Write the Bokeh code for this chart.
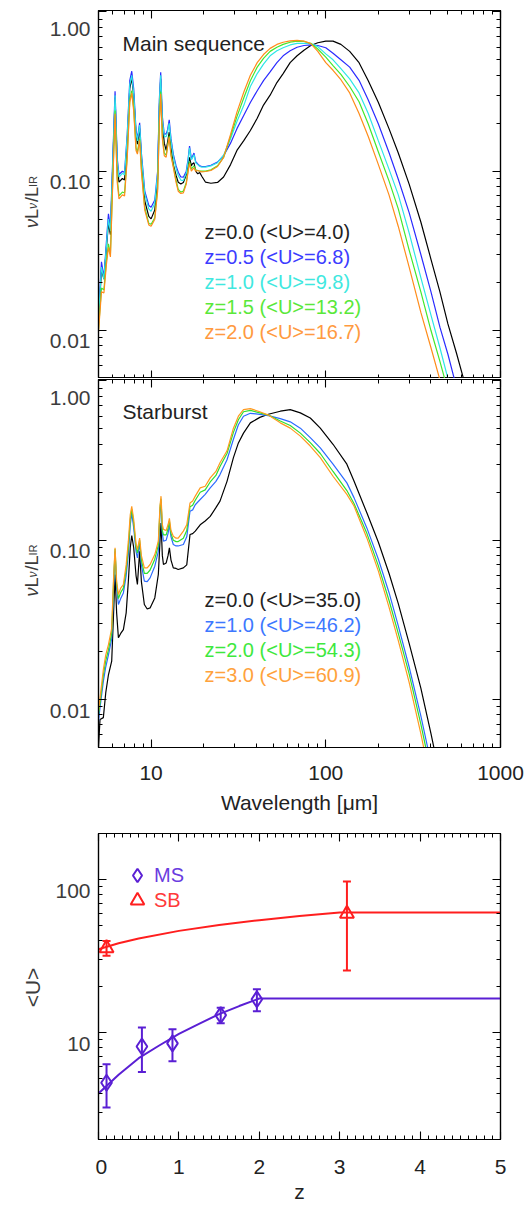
import sys
import math
from math import pi
from bokeh.plotting import figure
from bokeh.layouts import column, row
from bokeh.core.properties import value
from bokeh.models import (Range1d, FixedTicker, LogAxis, LinearAxis, PrintfTickFormatter,
                          CustomJSTickFormatter, Label, Whisker, TeeHead, ColumnDataSource,
                          Legend, LegendItem)
from bokeh.embed import file_html
from bokeh.resources import INLINE

FONT = "Liberation Sans"
TXT = "#222222"
STRIP_TXT = "#3c3c3c"

# ---------------- data: Main sequence SEDs ----------------
W_MS = [5.0, 5.2, 5.37, 5.55, 5.7, 5.85, 6.0, 6.22, 6.4, 6.55, 6.85, 7.05, 7.3, 7.55, 7.75, 7.95,
        8.2, 8.35, 8.6, 8.8, 9.2, 9.7, 10.0, 10.5, 10.9, 11.15, 11.35, 11.6, 11.9, 12.2, 12.4, 12.7,
        13.0, 13.4, 13.9, 14.3, 14.8, 15.3, 15.9, 16.3, 16.6, 17.0, 17.2, 17.6, 18.0, 18.5, 19.0,
        19.5, 20.5, 22, 24, 26, 28.5, 31, 34, 37, 40.5, 44, 48, 52.5, 57, 62.5, 68.5, 75, 82, 90,
        100, 110, 122, 137, 155, 175, 200, 230, 260, 300, 350, 400, 450, 500, 560, 620, 700]
MS_Z00 = [.0115, .024, .021, .033, .047, .040, .09, .29, .11, .0853, .09, .088, .15, .33, .385, .30,
          .17, .148, .185, .12, .065, .052, .0502, .057, .09, .25, .38, .2, .15, .135, .15, .176,
          .14, .11, .094, .0853, .083, .085, .095, .11, .122, .108, .111, .113, .10, .0963, .098,
          .093, .0853, .084, .085, .092, .11, .135, .156, .18, .215, .26, .30, .36, .41, .48, .53,
          .575, .615, .64, .655, .655, .625, .565, .48, .37, .27, .185, .13, .083, .048, .028,
          .0175, .011, .0072, .0048, .0031]
MS_Z05 = [.0125, .027, .0216, .036, .054, .044, .10, .318, .12, .0953, .10, .098, .17, .37, .424, .33,
          .18, .16, .201, .13, .075, .061, .0594, .066, .10, .28, .418, .22, .17, .172, .18, .21,
          .16, .128, .108, .0986, .092, .0917, .10, .12, .1436, .12, .123, .13, .115, .111, .108,
          .107, .107, .109, .114, .125, .15, .185, .225, .27, .32, .37, .42, .48, .53, .57, .60,
          .615, .62, .615, .595, .55, .50, .45, .372, .28, .198, .131, .089, .055, .030, .0175,
          .0105, .0071, .0044, .0031, .0019]
MS_Z10 = [.012, .025, .021, .034, .050, .042, .095, .30, .115, .092, .097, .095, .165, .35, .399, .31,
          .175, .155, .195, .125, .072, .058, .0561, .063, .097, .27, .40, .21, .165, .165, .175, .20,
          .155, .124, .104, .094, .088, .0873, .097, .117, .14, .118, .12, .127, .113, .11, .107,
          .106, .106, .108, .113, .126, .16, .205, .26, .34, .41, .47, .53, .57, .595, .62, .635,
          .635, .632, .605, .545, .50, .44, .38, .31, .23, .155, .103, .071, .041, .0215, .0125,
          .0078, .0050, .0034, .0023, .0015]
MS_Z15 = [.0102, .0185, .018, .0275, .035, .030, .074, .24, .09, .070, .074, .073, .125, .28, .32, .25,
          .14, .132, .16, .105, .059, .047, .0465, .051, .078, .21, .315, .165, .13, .126, .142, .167,
          .128, .108, .088, .077, .074, .075, .085, .102, .115, .103, .105, .108, .102, .101, .10,
          .10, .10, .102, .108, .122, .165, .22, .29, .37, .45, .51, .565, .60, .625, .645, .655,
          .652, .635, .585, .52, .46, .405, .34, .273, .198, .132, .087, .058, .032, .0175, .010,
          .0064, .0042, .0028, .0019, .0012]
MS_Z20 = [.0098, .0175, .0172, .026, .0333, .029, .07, .229, .085, .0671, .071, .07, .12, .27, .309, .24,
          .135, .128, .156, .10, .057, .046, .0451, .05, .075, .20, .306, .16, .125, .1224, .14, .163,
          .125, .106, .085, .0749, .0725, .0731, .083, .10, .112, .10, .102, .105, .1, .101, .1,
          .099, .0996, .101, .107, .122, .17, .235, .315, .40, .48, .54, .59, .625, .645, .658, .662,
          .655, .632, .565, .48, .43, .375, .31, .23, .165, .11, .071, .045, .025, .013, .0078,
          .0049, .0033, .0021, .0014, .001]
MS_LABELS = ["z=0.0 (<U>=4.0)", "z=0.5 (<U>=6.8)", "z=1.0 (<U>=9.8)",
             "z=1.5 (<U>=13.2)", "z=2.0 (<U>=16.7)"]

# ---------------- data: Starburst SEDs ----------------
W_SB = [5.0, 5.1, 5.33, 5.5, 5.7, 5.95, 6.1, 6.22, 6.35, 6.5, 6.7, 6.94, 7.2, 7.41, 7.6, 7.75, 7.95,
        8.2, 8.35, 8.6, 8.8, 9.15, 9.5, 9.87, 10.5, 11.0, 11.25, 11.4, 11.6, 11.77, 12.2, 12.5,
        12.73, 13.0, 13.4, 13.9, 14.3, 15.3, 16.0, 16.7, 17.3, 17.9, 19.1, 20.4, 21.8, 23.5, 24.8,
        27.2, 29.6, 31.6, 33.8, 37, 41.9, 46.9, 54.9, 62.6, 71.5, 81.5, 93, 110, 132, 145, 172,
        200, 230, 260, 300, 350, 400, 450]
SB_Z00 = [.005, .0075, .0077, .011, .0143, .0174, .035, .0609, .035, .0244, .026, .0275, .035, .0553,
          .09, .107, .09, .06, .0527, .0853, .055, .0395, .037, .0376, .0434, .0609, .1, .128, .08,
          .0704, .072, .08, .0895, .075, .067, .0665, .0655, .067, .07, .1085, .11, .114, .125,
          .132, .141, .16, .176, .234, .33, .408, .47, .545, .59, .617, .645, .66, .63, .585, .505,
          .40, .30, .235, .148, .097, .062, .040, .0225, .0118, .0061, .0033]
SB_Z10 = [.0073, .0089, .013, .016, .0191, .024, .05, .085, .05, .0395, .043, .0467, .06, .0813, .125,
          .148, .12, .085, .0774, .095, .07, .0553, .055, .058, .0687, .085, .15, .175, .11, .0986,
          .1, .11, .125, .105, .094, .092, .092, .094, .105, .152, .155, .167, .18, .194, .213, .234,
          .258, .32, .43, .53, .60, .626, .617, .605, .58, .553, .505, .44, .38, .30, .229, .185,
          .119, .076, .047, .029, .016, .0079, .004, .0021]
SB_Z20 = [.008, .0095, .0142, .0175, .0205, .026, .055, .088, .053, .043, .047, .05, .065, .09, .135,
          .157, .128, .09, .083, .1, .075, .062, .062, .065, .076, .093, .16, .182, .115, .108, .108,
          .118, .132, .11, .1, .098, .098, .103, .115, .162, .166, .178, .2, .207, .232, .255, .29,
          .35, .475, .57, .64, .653, .63, .61, .56, .525, .47, .41, .35, .27, .205, .17, .11, .069,
          .042, .026, .0145, .007, .0035, .0019]
SB_Z30 = [.0085, .0102, .0154, .019, .0221, .028, .058, .0895, .055, .0456, .05, .0527, .07, .0986,
          .145, .163, .135, .095, .0874, .103, .08, .067, .067, .0704, .0813, .0986, .165, .189, .125,
          .117, .115, .125, .137, .115, .106, .103, .103, .114, .125, .171, .176, .189, .213, .218,
          .246, .27, .306, .364, .505, .60, .66, .67, .64, .61, .545, .505, .45, .39, .33, .252,
          .194, .164, .103, .064, .038, .0234, .0128, .0061, .003, .0016]
SB_LABELS = ["z=0.0 (<U>=35.0)", "z=1.0 (<U>=46.2)", "z=2.0 (<U>=54.3)", "z=3.0 (<U>=60.9)"]

# ---------------- data: <U>(z) ----------------
Z_MS = [0.10, 0.54, 0.92, 1.52, 1.97]
U_MS = [4.7, 8.1, 8.5, 13.0, 16.5]
U_MS_LO = [3.24, 5.52, 6.5, 11.5, 13.8]
U_MS_HI = [6.2, 10.8, 10.5, 14.5, 19.2]
Z_SB = [0.10, 3.09]
U_SB = [35.6, 59.7]
U_SB_LO = [31.8, 25.4]
U_SB_HI = [39.7, 97.0]
Z_MS_FIT = [0.0, 0.25, 0.5, 0.75, 1.0, 1.25, 1.5, 1.75, 2.0, 5.0]
U_MS_FIT = [4.0, 5.3, 6.8, 8.2, 9.8, 11.4, 13.2, 14.9, 16.7, 16.7]
Z_SB_FIT = [0.0, 0.25, 0.5, 1.0, 1.5, 2.0, 2.5, 3.0, 5.0]
U_SB_FIT = [35.0, 38.3, 41.2, 46.2, 50.5, 54.3, 57.8, 60.9, 60.9]

# ---------------- tick values / labels ----------------
XT_MAJ = [10, 100, 1000]
XT_MIN = [6, 7, 8, 9, 20, 30, 40, 50, 60, 70, 80, 90, 200, 300, 400, 500, 600, 700, 800, 900]
YT_MAJ = [0.01, 0.1, 1.0]
YT_TXT = ["0.01", "0.10", "1.00"]
YT_MIN = [0.006, 0.007, 0.008, 0.009, 0.02, 0.03, 0.04, 0.05, 0.06, 0.07, 0.08, 0.09,
          0.2, 0.3, 0.4, 0.5, 0.6, 0.7, 0.8, 0.9]
ZT_MAJ = [0, 1, 2, 3, 4, 5]
ZT_MIN = [i / 10 for i in range(1, 50) if i % 10 != 0]
UT_MAJ = [10, 100]
UT_TXT = ["10", "100"]
UT_MIN = [2, 3, 4, 5, 6, 7, 8, 9, 20, 30, 40, 50, 60, 70, 80, 90, 200]

for nm, arr, ref in [("MS0", MS_Z00, W_MS), ("MS1", MS_Z05, W_MS), ("MS2", MS_Z10, W_MS),
                     ("MS3", MS_Z15, W_MS), ("MS4", MS_Z20, W_MS), ("SB0", SB_Z00, W_SB),
                     ("SB1", SB_Z10, W_SB), ("SB2", SB_Z20, W_SB), ("SB3", SB_Z30, W_SB)]:
    if len(arr) != len(ref):
        print("LENGTH MISMATCH", nm, len(arr), len(ref), file=sys.stderr)

MS_LINE_COLORS = ["#000000", "#2b2bff", "#2ee6e6", "#44e82a", "#ff8c1a"]
MS_TEXT_COLORS = ["#222222", "#3c3cff", "#40e8e0", "#5ae83a", "#ff9a40"]
SB_LINE_COLORS = ["#000000", "#2c6bff", "#2ee02e", "#ff9a1f"]
SB_TEXT_COLORS = ["#222222", "#3d78ff", "#3ee83e", "#ffa23c"]
PURPLE = "#5a1fd4"
PURPLE_TXT = "#6a3ce0"
RED = "#ff1e1e"
RED_TXT = "#ff3a3a"

STRIP_W = 95
MAIN_W = 432
EMPTY = CustomJSTickFormatter(code="return ''")


def style_axis(ax, ticks, minor, fmt=None, standoff=8):
    ax.ticker = FixedTicker(ticks=ticks, minor_ticks=minor)
    ax.axis_line_color = "black"
    ax.axis_line_width = 1.2
    ax.major_tick_in = 8
    ax.major_tick_out = 0
    ax.minor_tick_in = 4
    ax.minor_tick_out = 0
    ax.major_tick_line_color = "black"
    ax.minor_tick_line_color = "black"
    ax.major_tick_line_width = 1.1
    ax.minor_tick_line_width = 1.0
    if fmt is not None:
        ax.formatter = PrintfTickFormatter(format=fmt)
        ax.major_label_text_font = FONT
        ax.major_label_text_font_size = "21px"
        ax.major_label_text_color = TXT
        ax.major_label_standoff = standoff
    else:
        ax.formatter = EMPTY
        ax.major_label_text_font_size = "1px"
        ax.major_label_standoff = 0


def add_label(p, x, y, text, size, color=TXT, angle=0.0, align="left", style="normal",
              baseline="alphabetic"):
    p.add_layout(Label(x=x, y=y, x_units="screen", y_units="screen", text=text,
                       text_font=FONT, text_font_size=f"{size}px", text_color=color,
                       angle=angle, text_align=align, text_baseline=baseline,
                       text_font_style=style))


def strip(height, frame_h):
    # narrow companion plot that carries the y tick labels and the y title;
    # its frame is aligned with the neighbouring panel's frame, 1 data unit = 1 px
    s = figure(width=STRIP_W, height=height, x_range=Range1d(0, STRIP_W),
               y_range=Range1d(0, frame_h), x_axis_location=None, y_axis_location=None,
               output_backend="svg", toolbar_location=None, min_border_left=0,
               min_border_right=0, min_border_top=0, min_border_bottom=0)
    s.outline_line_color = None
    s.xgrid.visible = False
    s.ygrid.visible = False
    return s


def strip_text(s, xs, ys, texts, size, align="left", baseline="alphabetic", angle=0.0,
               style="normal"):
    s.text(x=xs, y=ys, text=texts, angle=angle, text_font=value(FONT),
           text_font_size=value(f"{size}px"), text_font_style=style, text_color=STRIP_TXT,
           text_align=align, text_baseline=baseline)


def tick_labels(s, ticks, texts, lo, hi, frame_h):
    span = math.log10(hi) - math.log10(lo)
    ys = []
    for v in ticks:
        yt = (math.log10(v) - math.log10(lo)) / span * frame_h
        off = 16.5 if yt > frame_h - 6 else 10.5
        ys.append(round(yt - off))
    strip_text(s, [90] * len(ticks), ys, texts, 21, align="right")


def sed_ylabel(s, y0):
    # composite rotated label  nu L_nu / L_IR   (alphabetic baseline at x = 31)
    pieces = [("ν", 18, 31, "italic", 0.52), ("L", 18, 31, "normal", 0.556),
              ("ν", 12, 32, "italic", 0.52), ("/L", 18, 31, "normal", 0.834),
              ("IR", 11, 32, "normal", 1.0)]
    y = y0
    for text, size, bx, style, em in pieces:
        strip_text(s, [bx], [round(y)], [text], size, angle=pi / 2, style=style)
        y += em * size


def sed_panel(height, top, bottom, show_x):
    p = figure(width=MAIN_W, height=height, x_axis_type="log", y_axis_type="log",
               x_range=Range1d(5, 1000), y_range=Range1d(0.005, 1.02),
               output_backend="svg", toolbar_location=None,
               min_border_left=3, min_border_right=27, min_border_top=top,
               min_border_bottom=bottom)
    p.xgrid.visible = False
    p.ygrid.visible = False
    p.outline_line_color = "black"
    p.outline_line_width = 1.2
    xb = p.below[0]
    yl = p.left[0]
    style_axis(xb, XT_MAJ, XT_MIN, "%d" if show_x else None, standoff=18)
    style_axis(yl, YT_MAJ, YT_MIN, None)
    ax_top = LogAxis()
    style_axis(ax_top, XT_MAJ, XT_MIN, None)
    p.add_layout(ax_top, "above")
    ax_r = LogAxis()
    style_axis(ax_r, YT_MAJ, YT_MIN, None)
    p.add_layout(ax_r, "right")
    if show_x:
        xb.axis_label = "Wavelength [μm]"
        xb.axis_label_text_font = FONT
        xb.axis_label_text_font_size = "21px"
        xb.axis_label_text_font_style = "normal"
        xb.axis_label_text_color = TXT
        xb.axis_label_standoff = 8
    return p


# ---------- panel 1: main sequence ----------
H1, F1 = 378, 367
p1 = sed_panel(H1, 10, 0, False)
for vals, col in zip([MS_Z00, MS_Z05, MS_Z10, MS_Z15, MS_Z20], MS_LINE_COLORS):
    p1.line(W_MS, vals, line_color=col, line_width=1.2)
add_label(p1, 24, 335, "Main sequence", 21)
for i, (t, c) in enumerate(zip(MS_LABELS, MS_TEXT_COLORS)):
    add_label(p1, 106, 147 - 25 * i, t, 20, color=c)
s1 = strip(H1, F1)
tick_labels(s1, YT_MAJ, YT_TXT, 0.005, 1.02, F1)
sed_ylabel(s1, 150)

# ---------- panel 2: starburst ----------
H2, F2 = 454, 368
p2 = sed_panel(H2, 1, 85, True)
for vals, col in zip([SB_Z00, SB_Z10, SB_Z20, SB_Z30], SB_LINE_COLORS):
    p2.line(W_SB, vals, line_color=col, line_width=1.2)
add_label(p2, 24, 336, "Starburst", 21)
for i, (t, c) in enumerate(zip(SB_LABELS, SB_TEXT_COLORS)):
    add_label(p2, 106, 148 - 25 * i, t, 20, color=c)
s2 = strip(H2, F2)
tick_labels(s2, YT_MAJ, YT_TXT, 0.005, 1.02, F2)
sed_ylabel(s2, 151)

# ---------- panel 3: <U> vs z ----------
H3, F3 = 378, 306
p3 = figure(width=MAIN_W, height=H3, y_axis_type="log", x_range=Range1d(0, 5),
            y_range=Range1d(2, 200), output_backend="svg", toolbar_location=None,
            min_border_left=3, min_border_right=27, min_border_top=1, min_border_bottom=71)
p3.xgrid.visible = False
p3.ygrid.visible = False
p3.outline_line_color = "black"
p3.outline_line_width = 1.2
xb3 = p3.below[0]
yl3 = p3.left[0]
style_axis(xb3, ZT_MAJ, ZT_MIN, "%d", standoff=20)
style_axis(yl3, UT_MAJ, UT_MIN, None)
xb3.axis_label = "z"
xb3.axis_label_text_font = FONT
xb3.axis_label_text_font_size = "21px"
xb3.axis_label_text_font_style = "normal"
xb3.axis_label_text_color = TXT
xb3.axis_label_standoff = 3
ax3t = LinearAxis()
style_axis(ax3t, ZT_MAJ, ZT_MIN, None)
p3.add_layout(ax3t, "above")
ax3r = LogAxis()
style_axis(ax3r, UT_MAJ, UT_MIN, None)
p3.add_layout(ax3r, "right")

p3.line(Z_MS_FIT, U_MS_FIT, line_color=PURPLE, line_width=2)
p3.line(Z_SB_FIT, U_SB_FIT, line_color=RED, line_width=2)

src_ms = ColumnDataSource(dict(z=Z_MS, u=U_MS, lo=U_MS_LO, hi=U_MS_HI))
src_sb = ColumnDataSource(dict(z=Z_SB, u=U_SB, lo=U_SB_LO, hi=U_SB_HI))
for src, col in [(src_ms, PURPLE), (src_sb, RED)]:
    p3.add_layout(Whisker(source=src, base="z", lower="lo", upper="hi", dimension="height",
                          line_color=col, line_width=2,
                          upper_head=TeeHead(size=8, line_color=col, line_width=2),
                          lower_head=TeeHead(size=8, line_color=col, line_width=2)))
r_ms = p3.scatter("z", "u", source=src_ms, marker="diamond", size=16,
                  fill_color=None, line_color=PURPLE, line_width=2)
r_sb = p3.scatter("z", "u", source=src_sb, marker="triangle", size=14,
                  fill_color=None, line_color=RED, line_width=2)

leg_ms = Legend(items=[LegendItem(label="MS", renderers=[r_ms])], location=(22, 247),
                glyph_width=34, glyph_height=34, label_standoff=0, padding=0, margin=0,
                spacing=0, border_line_alpha=0, background_fill_alpha=0,
                label_text_font=FONT, label_text_font_size="20px", label_text_color=PURPLE_TXT)
leg_sb = Legend(items=[LegendItem(label="SB", renderers=[r_sb])], location=(22, 222),
                glyph_width=34, glyph_height=34, label_standoff=0, padding=0, margin=0,
                spacing=0, border_line_alpha=0, background_fill_alpha=0,
                label_text_font=FONT, label_text_font_size="20px", label_text_color=RED_TXT)
p3.add_layout(leg_ms)
p3.add_layout(leg_sb)

s3 = strip(H3, F3)
tick_labels(s3, UT_MAJ, UT_TXT, 2, 200, F3)
strip_text(s3, [32], [152], ["<U>"], 21, align="center", angle=pi / 2)

layout = column(row(s1, p1), row(s2, p2), row(s3, p3))
open("out.html", "w").write(file_html(layout, INLINE))
